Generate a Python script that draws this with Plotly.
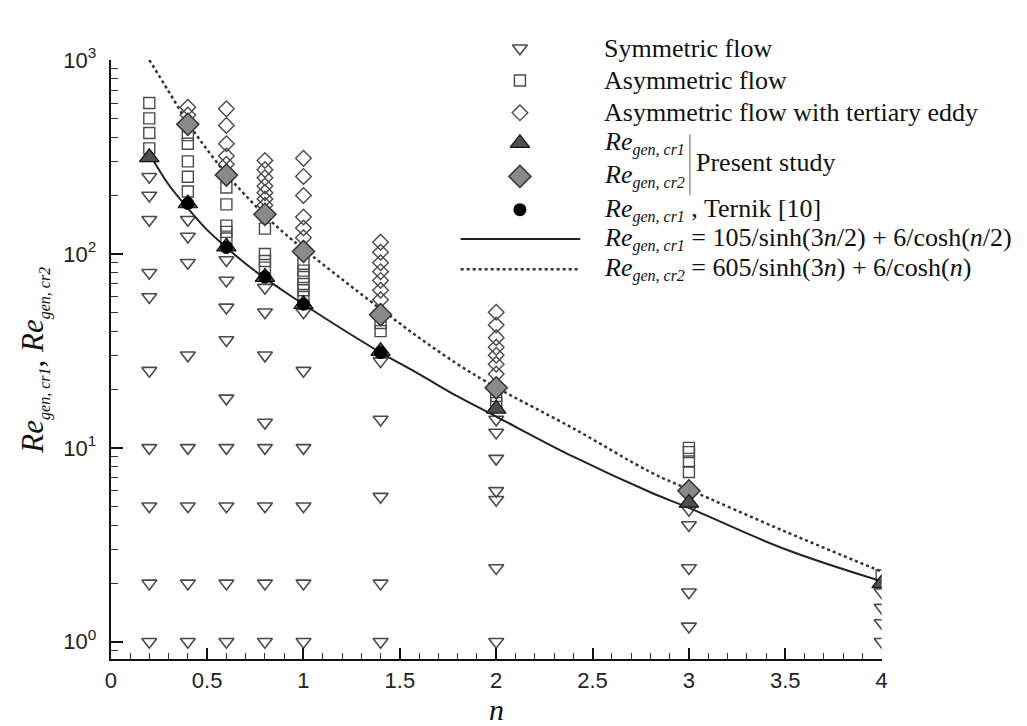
import plotly.graph_objects as go

W, H = 1027, 726
PL, PR, PT, PB = 106, 886, 45, 658  # plot area in pixels

# ---------------- data ----------------
sym_n = [0.2]*10 + [0.4]*8 + [0.6]*9 + [0.8]*8 + [1.0]*6 + [1.4]*5 + [2.0]*7 + [3.0]*5 + [4.0]*4
sym_re = [1, 2, 5, 10, 25, 60, 80, 150, 200, 250,
          1, 2, 5, 10, 30, 90, 123, 150,
          1, 2, 5, 10, 18, 36, 53, 73, 93,
          1, 2, 5, 10, 13.5, 30, 50, 67,
          1, 2, 5, 10, 25, 50,
          1, 2, 5.6, 14, 28,
          1, 2.4, 5.4, 6.0, 8.8, 12, 14,
          1.2, 1.8, 2.4, 4.0, 4.8,
          1.0, 1.25, 1.5, 1.8]

asym_n = [0.2]*4 + [0.4]*5 + [0.6]*5 + [0.8]*4 + [1.0]*6 + [1.4]*2 + [2.0]*2 + [3.0]*4 + [4.0]*1
asym_re = [350, 420, 500, 600,
           210, 250, 300, 370, 410,
           120, 130, 140, 180, 220,
           85, 92, 100, 135,
           60, 65, 70, 76, 82, 89,
           40, 44,
           17, 18.5,
           7.5, 8.5, 9.5, 10,
           2.2]

tert_n = [0.4]*2 + [0.6]*5 + [0.8]*7 + [1.0]*6 + [1.4]*7 + [2.0]*7
tert_re = [520, 570,
           290, 320, 370, 460, 560,
           178, 192, 207, 224, 247, 272, 303,
           121, 136, 155, 200, 251, 311,
           58, 65, 73, 81, 90, 102, 115,
           24, 27, 30, 33, 37, 43, 50]

cr1_n = [0.2, 0.4, 0.6, 0.8, 1.0, 1.4, 2.0, 3.0, 4.0]
cr1_re = [315, 182, 109, 76, 55, 31.5, 15.9, 5.2, 2.0]

cr2_n = [0.4, 0.6, 0.8, 1.0, 1.4, 2.0, 3.0]
cr2_re = [466, 255, 160, 103, 48.6, 20.4, 6.0]

ternik_n = [0.4, 0.6, 0.8, 1.0, 1.4]
ternik_re = [182, 108, 76, 55, 31]

fit1_n = [0.2, 0.3, 0.4, 0.5, 0.6, 0.7, 0.8, 0.9, 1.0, 1.2, 1.4, 1.6, 1.8, 2.0, 2.4, 2.8, 3.0, 3.5, 4.0]
fit1_re = [330, 228, 172, 133, 108, 89, 75, 64, 55, 41, 31, 24, 18.4, 14.5, 9.0, 5.9, 4.9, 3.0, 2.05]

fit2_n = [0.2, 0.3, 0.4, 0.5, 0.6, 0.7, 0.8, 0.9, 1.0, 1.2, 1.4, 1.6, 1.8, 2.0, 2.4, 2.8, 3.0, 3.5, 4.0]
fit2_re = [1000, 690, 475, 345, 258, 200, 158, 128, 106, 74, 52, 37, 27, 20.5, 12.6, 7.5, 6.1, 3.7, 2.3]

y_tickvals = [1, 10, 100, 1000]
y_ticktext = ['10<sup>0</sup>', '10<sup>1</sup>', '10<sup>2</sup>', '10<sup>3</sup>']
x_tickvals = [0, 0.5, 1, 1.5, 2, 2.5, 3, 3.5, 4]
x_ticktext = ['0', '0.5', '1', '1.5', '2', '2.5', '3', '3.5', '4']

SUB1 = '<sub><span style="font-size:16px"><i>gen, cr1</i></span></sub>'
SUB2 = '<sub><span style="font-size:16px"><i>gen, cr2</i></span></sub>'
legend_labels = [
    'Symmetric flow',
    'Asymmetric flow',
    'Asymmetric flow with tertiary eddy',
    '<i>Re</i>' + SUB1,
    '<i>Re</i>' + SUB2,
    '<i>Re</i>' + SUB1 + ' , Ternik [10]',
    '<i>Re</i>' + SUB1 + ' = 105/sinh(3<i>n</i>/2) + 6/cosh(<i>n</i>/2)',
    '<i>Re</i>' + SUB2 + ' = 605/sinh(3<i>n</i>) + 6/cosh(<i>n</i>)',
]
present_label = 'Present study'
x_title = '<i>n</i>'
y_title = '<i>Re</i>' + SUB1 + ', <i>Re</i>' + SUB2

# ---------------- styles ----------------
SERIF = 'Liberation Serif, Times New Roman, serif'
SANS = 'Liberation Sans Narrow, Liberation Sans, Arial, sans-serif'

sty_sym = dict(symbol='triangle-down-open', size=13, color='#4a4a4a', line=dict(width=1.6, color='#4a4a4a'))
sty_asym = dict(symbol='square-open', size=11, color='#4a4a4a', line=dict(width=1.4, color='#4a4a4a'))
sty_tert = dict(symbol='diamond-open', size=12, color='#4a4a4a', line=dict(width=1.4, color='#4a4a4a'))
sty_cr1 = dict(symbol='triangle-up', size=17, color='#4f4f4f', line=dict(width=1.2, color='#111'))
sty_cr2 = dict(symbol='diamond', size=17, color='#8a8a8a', line=dict(width=1.5, color='#333'))
sty_ter = dict(symbol='circle', size=13, color='#000', line=dict(width=0))

fig = go.Figure()

def mk(x, y, m, xa='x', ya='y'):
    return go.Scatter(x=x, y=y, mode='markers', marker=m, showlegend=False,
                      hoverinfo='skip', xaxis=xa, yaxis=ya)

fig.add_trace(mk(sym_n, sym_re, sty_sym))
fig.add_trace(mk(asym_n, asym_re, sty_asym))
fig.add_trace(mk(tert_n, tert_re, sty_tert))
fig.add_trace(go.Scatter(x=fit1_n, y=fit1_re, mode='lines', line=dict(color='#222', width=2, shape='spline'),
                         showlegend=False, hoverinfo='skip'))
fig.add_trace(go.Scatter(x=fit2_n, y=fit2_re, mode='lines', line=dict(color='#333', width=2.5, dash='dot', shape='spline'),
                         showlegend=False, hoverinfo='skip'))
fig.add_trace(mk(cr2_n, cr2_re, sty_cr2))
fig.add_trace(mk(cr1_n, cr1_re, sty_cr1))
fig.add_trace(mk(ternik_n, ternik_re, sty_ter))

# ---------------- custom legend (pixel coordinates on a hidden axis pair) ----------------
leg_y = [33, 66, 99, 130, 164, 198, 228, 259]
sym_x = 520
txt_x = 603
for m, yy in zip([sty_sym, sty_asym, sty_tert, sty_cr1, sty_cr2, sty_ter], leg_y[:6]):
    fig.add_trace(mk([sym_x], [yy], m, 'x2', 'y2'))
fig.add_trace(go.Scatter(x=[460, 581], y=[leg_y[6]]*2, mode='lines', line=dict(color='#222', width=2),
                         xaxis='x2', yaxis='y2', showlegend=False, hoverinfo='skip'))
fig.add_trace(go.Scatter(x=[460, 581], y=[leg_y[7]]*2, mode='lines', line=dict(color='#333', width=2.5, dash='dot'),
                         xaxis='x2', yaxis='y2', showlegend=False, hoverinfo='skip'))

for lab, yy in zip(legend_labels, leg_y):
    fig.add_annotation(x=txt_x / W, y=1 - yy / H, xref='paper', yref='paper', text=lab, showarrow=False,
                       xanchor='left', yanchor='middle', font=dict(family=SERIF, size=26, color='#111'))
fig.add_annotation(x=696 / W, y=1 - 150 / H, xref='paper', yref='paper', text=present_label, showarrow=False,
                   xanchor='left', yanchor='middle', font=dict(family=SERIF, size=26, color='#111'))
fig.add_shape(type='line', xref='paper', yref='paper', x0=692 / W, x1=692 / W, y0=1 - 121 / H, y1=1 - 183 / H,
              line=dict(color='#777', width=1.2))

# x-axis title as an annotation just under the tick labels
fig.add_annotation(x=(PL + PR) / 2 / W, y=1 - 709 / H, xref='paper', yref='paper', text=x_title, showarrow=False,
                   xanchor='center', yanchor='middle', font=dict(family=SERIF, size=30, color='#111'))

# ---------------- axes ----------------
minor_y = [0.9] + [k * 10 ** d for d in range(0, 3) for k in range(2, 10)]
fig.update_layout(
    width=W, height=H, margin=dict(l=0, r=0, t=0, b=0),
    paper_bgcolor='white', plot_bgcolor='rgba(0,0,0,0)',
    xaxis=dict(domain=[PL / W, PR / W], range=[0, 4], tickvals=x_tickvals, ticktext=x_ticktext,
               ticks='inside', ticklen=11, tickwidth=2, tickcolor='#111',
               showline=True, linecolor='#111', linewidth=2, showgrid=False, zeroline=False,
               minor=dict(dtick=0.1, ticks='inside', ticklen=6, tickwidth=1, tickcolor='#333', showgrid=False),
               tickfont=dict(family=SANS, size=22, color='#222'), ticklabelstandoff=0,
               anchor='y'),
    yaxis=dict(domain=[1 - PB / H, 1 - PT / H], type='log', range=[-0.0915, 3],
               tickvals=y_tickvals, ticktext=y_ticktext,
               ticks='inside', ticklen=12, tickwidth=2, tickcolor='#111',
               showline=True, linecolor='#111', linewidth=2, showgrid=False, zeroline=False,
               minor=dict(tickvals=minor_y, ticks='inside', ticklen=7, tickwidth=1, tickcolor='#333', showgrid=False),
               tickfont=dict(family=SANS, size=22, color='#222'), ticklabelstandoff=8,
               title=dict(text=y_title, font=dict(family=SERIF, size=31, color='#111'), standoff=10),
               anchor='x'),
    xaxis2=dict(domain=[0, 1], range=[0, W], visible=False, anchor='y2', fixedrange=True),
    yaxis2=dict(domain=[0, 1], range=[H, 0], visible=False, anchor='x2', fixedrange=True),
)

fig.write_html('out.html', config={'displayModeBar': False},
               post_script="document.body.style.margin='0';document.body.style.overflow='hidden';")
